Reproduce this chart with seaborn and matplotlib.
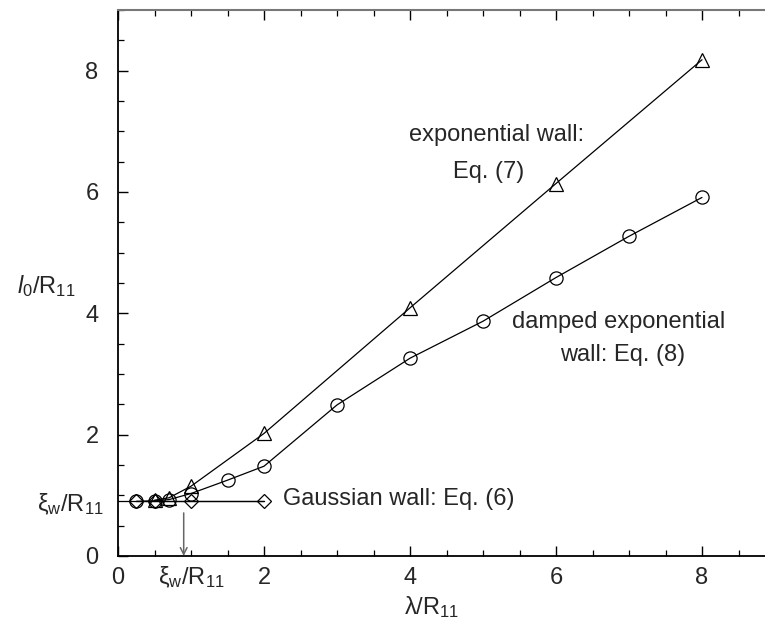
import matplotlib
matplotlib.use("Agg")
import matplotlib.pyplot as plt
import seaborn as sns
import numpy as np
import pandas as pd
from matplotlib.ticker import MultipleLocator

# ---- data ----
exp_x = [0.5, 0.7, 1.0, 2.0, 4.0, 6.0, 8.0]
exp_y = [0.92, 0.96, 1.15, 2.02, 4.09, 6.14, 8.18]

damp_x = [0.25, 0.5, 0.7, 1.0, 1.5, 2.0, 3.0, 4.0, 5.0, 6.0, 7.0, 8.0]
damp_y = [0.90, 0.91, 0.93, 1.03, 1.25, 1.48, 2.49, 3.26, 3.87, 4.59, 5.27, 5.91]

gauss_x = [0.25, 0.5, 1.0, 2.0]
gauss_y = [0.90, 0.90, 0.90, 0.90]

xi_w = 0.9
x_ticks = [0, 2, 4, 6, 8]
y_ticks = [0, 2, 4, 6, 8]

sns.set_theme(style="ticks")
plt.rcParams["font.family"] = ["Liberation Sans", "DejaVu Sans"]
plt.rcParams["mathtext.fontset"] = "custom"
plt.rcParams["mathtext.rm"] = "Liberation Sans"
plt.rcParams["mathtext.it"] = "Liberation Sans:italic"

FS = 17

fig = plt.figure(figsize=(7.65, 6.25), dpi=100)
ax = fig.add_axes([118 / 765, 69 / 625, 1 - 118 / 765, (556 - 10) / 625])

common = dict(color="black", linewidth=0.9, markersize=9.5, markerfacecolor="none",
              markeredgecolor="black", markeredgewidth=0.9, estimator=None, sort=False,
              legend=False, ax=ax)

df_e = pd.DataFrame({"x": exp_x, "y": exp_y})
df_d = pd.DataFrame({"x": damp_x, "y": damp_y})
df_g = pd.DataFrame({"x": gauss_x, "y": gauss_y})

# horizontal reference line at xi_w from the axis to the Gaussian points
ax.plot([0, gauss_x[-1]], [xi_w, xi_w], color="black", linewidth=0.9, zorder=1)

sns.lineplot(data=df_e, x="x", y="y", marker="^", **common)
sns.lineplot(data=df_d, x="x", y="y", marker="o", **common)
sns.lineplot(data=df_g, x="x", y="y", marker="D", **{**common, "markersize": 7.5})

# arrow marking xi_w on x axis
ax.annotate("", xy=(xi_w, 0.0), xytext=(xi_w, 0.71),
            arrowprops=dict(arrowstyle="->", color="#666666", lw=1.1,
                            shrinkA=0, shrinkB=0, mutation_scale=12))

ax.set_xlim(0, (765 - 118) / 73.0)
ax.set_ylim(0, 9)

ax.set_xticks(x_ticks)
ax.set_yticks(y_ticks)
ax.set_xticklabels([str(v) for v in x_ticks], fontsize=FS)
ax.set_yticklabels([str(v) for v in y_ticks], fontsize=FS)
ax.xaxis.set_minor_locator(MultipleLocator(0.5))
ax.yaxis.set_minor_locator(MultipleLocator(0.5))
ax.tick_params(which="both", direction="in", top=True, right=False, color="black")
ax.tick_params(which="major", length=7, width=1.0)
ax.tick_params(which="minor", length=4, width=0.9)
ax.tick_params(axis="y", pad=14)
ax.tick_params(axis="x", pad=8)

for s in ["left", "bottom"]:
    ax.spines[s].set_color("black")
    ax.spines[s].set_linewidth(1.3)
ax.spines["top"].set_color("#777777")
ax.spines["top"].set_linewidth(1.5)
ax.spines["right"].set_visible(False)

ax.set_xlabel("")
ax.set_ylabel("")

# extra tick-like labels for xi_w
ax.text(-0.2, xi_w - 0.05, r"$\mathrm{\xi_w/R_{11}}$", fontsize=FS, ha="right", va="center",
        clip_on=False)
ax.text(1.0, -0.47, r"$\mathrm{\xi_w/R_{11}}$", fontsize=FS, ha="center", va="baseline",
        clip_on=False)

# axis labels
fig.text(46 / 765, 1 - 286 / 625, r"$\mathit{l}_\mathrm{0}\mathrm{/R_{11}}$", fontsize=FS,
         ha="center", va="center")
fig.text(432 / 765, 1 - 607 / 625, r"$\mathrm{\lambda/R_{11}}$", fontsize=FS,
         ha="center", va="center")

# annotations
ax.text(3.99, 6.94, "exponential wall:", fontsize=FS, ha="left", va="center")
ax.text(4.59, 6.33, "Eq. (7)", fontsize=FS, ha="left", va="center")
ax.text(5.4, 3.85, "damped exponential", fontsize=FS, ha="left", va="center")
ax.text(6.05, 3.31, "wall: Eq. (8)", fontsize=FS, ha="left", va="center")
ax.text(2.26, 0.94, "Gaussian wall: Eq. (6)", fontsize=FS, ha="left", va="center")

fig.savefig("out.png", dpi=100)
